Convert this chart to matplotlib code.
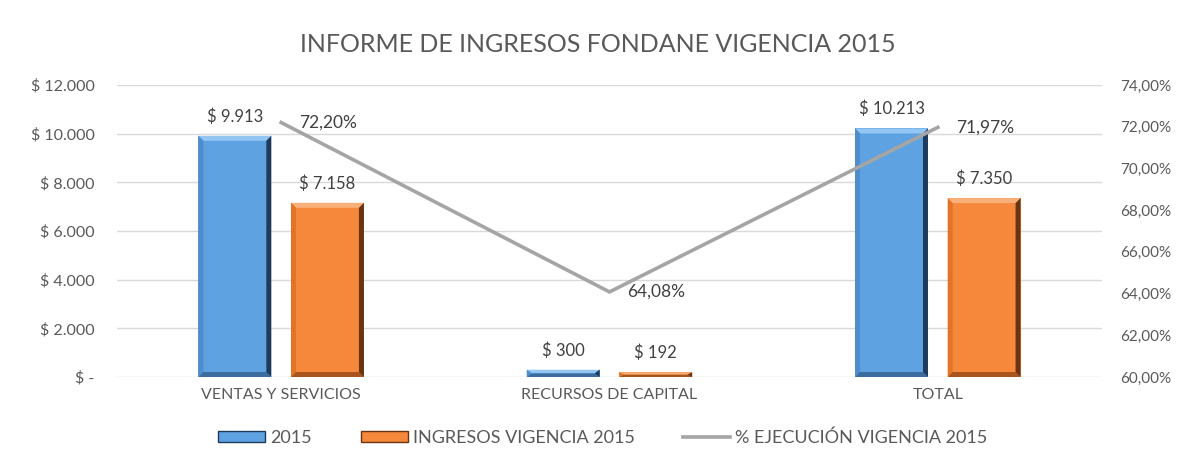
import matplotlib
matplotlib.use('Agg')
import matplotlib.pyplot as plt
from matplotlib.patches import Polygon, Patch
from matplotlib.lines import Line2D
from matplotlib import ticker
import numpy as np

categories = ['VENTAS Y SERVICIOS', 'RECURSOS DE CAPITAL', 'TOTAL']
valores_2015 = [9913, 300, 10213]
ingresos_2015 = [7158, 192, 7350]
ejecucion = [72.20, 64.08, 71.97]
series_names = ['2015', 'INGRESOS VIGENCIA 2015', '% EJECUCIÓN VIGENCIA 2015']
title = 'INFORME DE INGRESOS FONDANE VIGENCIA 2015'

plt.rcParams['font.family'] = ['Lato', 'DejaVu Sans']
TEXT = '#595959'

BLUE = dict(face='#5fa2e2', top='#93c6f2', left='#4f8ccc', right='#1f3b5c', bottom='#3b6c9e')
ORANGE = dict(face='#f5883a', top='#f9b078', left='#e27428', right='#6a3312', bottom='#a8541c')


def money(v):
    return '$ ' + f'{v:,}'.replace(',', '.')


def bevel_bar(ax, xc, h, w, colors, bx, by):
    x0 = xc - w / 2
    x1 = xc + w / 2
    by = min(by, h / 2)
    ax.add_patch(Polygon([(x0, 0), (x1, 0), (x1, h), (x0, h)], closed=True,
                         facecolor=colors['face'], edgecolor='none', zorder=2))
    faces = [
        ('top', [(x0, h), (x1, h), (x1 - bx, h - by), (x0 + bx, h - by)]),
        ('left', [(x0, 0), (x0, h), (x0 + bx, h - by), (x0 + bx, by)]),
        ('bottom', [(x0, 0), (x1, 0), (x1 - bx, by), (x0 + bx, by)]),
        ('right', [(x1, h), (x1, 0), (x1 - bx, by), (x1 - bx, h - by)]),
    ]
    for key, pts in faces:
        ax.add_patch(Polygon(pts, closed=True, facecolor=colors[key],
                             edgecolor='none', zorder=3))


fig = plt.figure(figsize=(11.82, 4.65), dpi=100)
ax = fig.add_axes([0.099, 0.1892, 0.8333, 0.628])
ax2 = ax.twinx()

x = np.arange(len(categories))
width = 0.222
offset = 0.141
ax.set_xlim(-0.5, 2.5)
ax.set_ylim(0, 12000)

# bevel size: ~5 px
bx = 5 / 985 * 3
by = 5 / 292 * 12000

for i in range(len(categories)):
    bevel_bar(ax, x[i] - offset, valores_2015[i], width, BLUE, bx, by)
    bevel_bar(ax, x[i] + offset, ingresos_2015[i], width, ORANGE, bx, by)
    ax.annotate(money(valores_2015[i]), (x[i] - offset, valores_2015[i]),
                xytext=(0, 8), textcoords='offset points', ha='center',
                va='bottom', fontsize=12, color='#404040')
    ax.annotate(money(ingresos_2015[i]), (x[i] + offset, ingresos_2015[i]),
                xytext=(0, 8), textcoords='offset points', ha='center',
                va='bottom', fontsize=12, color='#404040')

ax.set_yticks(np.arange(0, 12001, 2000))
ax.yaxis.set_major_formatter(ticker.FuncFormatter(
    lambda v, pos: '$ -' if v == 0 else money(int(v))))
ax.yaxis.grid(True, color='#d9d9d9', linewidth=1)
ax.set_axisbelow(True)
ax.set_xticks(x)
ax.set_xticklabels(categories)
ax.tick_params(axis='y', length=0, pad=16, labelsize=11.5, labelcolor=TEXT)
ax.tick_params(axis='x', length=0, pad=8, labelsize=11.5, labelcolor=TEXT)
for s in ax.spines.values():
    s.set_visible(False)

ax2.plot(x, ejecucion, color='#a5a5a5', linewidth=2.6, zorder=5)
ax2.set_ylim(60, 74)
ax2.set_yticks(np.arange(60, 74.01, 2))
ax2.yaxis.set_major_formatter(ticker.FuncFormatter(
    lambda v, pos: f'{v:.2f}%'.replace('.', ',')))
ax2.tick_params(axis='y', length=0, pad=13, labelsize=11, labelcolor=TEXT)
for s in ax2.spines.values():
    s.set_visible(False)
for xi, v in zip(x, ejecucion):
    ax2.annotate(f'{v:.2f}%'.replace('.', ','), (xi, v), xytext=(13, 0),
                 textcoords='offset points', ha='left', va='center',
                 fontsize=12.5, color='#404040')

fig.text(0.506, 0.905, title, ha='center', va='center', fontsize=18, color=TEXT)

handles = [
    Patch(facecolor=BLUE['face'], edgecolor=BLUE['right'], linewidth=1),
    Patch(facecolor=ORANGE['face'], edgecolor=ORANGE['right'], linewidth=1),
    Line2D([0], [0], color='#a5a5a5', linewidth=2.6),
]
fig.legend(handles, series_names, loc='center', bbox_to_anchor=(0.51, 0.058),
           ncol=3, frameon=False, fontsize=13, labelcolor=TEXT,
           handlelength=2.6, handleheight=0.55, handletextpad=0.28,
           columnspacing=2.7)

fig.savefig('out.png', dpi=100)
